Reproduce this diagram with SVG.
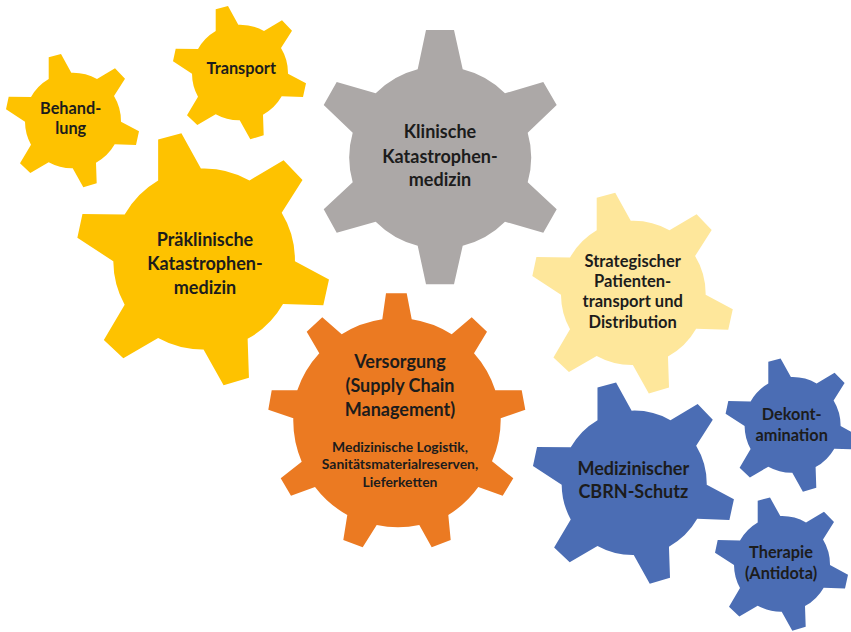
<svg xmlns="http://www.w3.org/2000/svg" width="851" height="632" viewBox="0 0 851 632">
<style>
text{font-family:"Lato","Noto Sans","Liberation Sans",sans-serif;font-weight:700;fill:#1c1c1c;text-anchor:middle}
.xl{font-size:18px}.m{font-size:16.5px}.s{font-size:16.3px}.xs{font-size:13.9px}
.y{fill:#fec200}.g{fill:#aca8a7}.p{fill:#fee79b}.o{fill:#eb7a22}.b{fill:#4b6db4}
</style>
<defs>
<path id="gear6" d="M48.7 57.3L61 54L71.3 72.7A48.5 48.5 0 0 1 97 79L115 68.3L125 78.7L114 96A48.5 48.5 0 0 1 121 121.7L139 131.3L136 145L114.7 144.3A48.5 48.5 0 0 1 96 162.7L96.7 183.3L83.3 187.3L72.7 168.3A48.5 48.5 0 0 1 48.7 162.3L30.3 173L20 163.3L31 144.7A48.5 48.5 0 0 1 25 121.7L6 109.3L8.7 96.7L31 97A48.5 48.5 0 0 1 48.7 79Z"/>
</defs>
<g id="connectors"></g>
<g id="behandlung"><use href="#gear6" class="y"/><text class="s" x="70.7" y="114">Behand-</text><text class="s" x="70.7" y="134">lung</text></g>
<g id="transport"><use href="#gear6" class="y" transform="translate(167 -48)"/><text class="s" x="241.3" y="74">Transport</text></g>
<g id="praeklinisch"><use href="#gear6" class="y" transform="translate(66 31) scale(1.892)"/><text class="xl" x="205" y="246">Präklinische</text><text class="xl" x="205" y="270">Katastrophen-</text><text class="xl" x="205" y="294">medizin</text></g>
<g id="klinisch"><path class="g" d="M426 30L454 30L462.7 69.3A90.5 90.5 0 0 1 505 93.3L543.3 82L556.7 105L527.7 132.7A90.5 90.5 0 0 1 527.7 182.3L556.7 209.3L543.3 232.7L505 221.7A90.5 90.5 0 0 1 462.7 245.7L454 284.3L426 284.3L417.7 245.7A90.5 90.5 0 0 1 375.7 221.7L336.7 232.7L323.7 209.3L352.7 182.3A90.5 90.5 0 0 1 352.7 132.7L323.7 105L336.7 82L375.7 93.3A90.5 90.5 0 0 1 417.7 69.3Z"/><text class="xl" x="440" y="138">Klinische</text><text class="xl" x="440" y="162.5">Katastrophen-</text><text class="xl" x="440" y="186">medizin</text></g>
<g id="strategisch"><use href="#gear6" class="p" transform="translate(523.3 111.3) scale(1.507)"/><text class="m" x="632.7" y="266.7">Strategischer</text><text class="m" x="632.7" y="286.7">Patienten-</text><text class="m" x="632.7" y="307.3">transport und</text><text class="m" x="632.7" y="328">Distribution</text></g>
<g id="versorgung"><path class="o" d="M386 293.3L406.7 293.3L411.7 319.3A103.7 103.7 0 0 1 451.7 334.3L471.7 317.3L487 331.7L474 353.3A103.7 103.7 0 0 1 495.3 390.3L521.7 390.3L525.3 409.7L500.7 418.3A103.7 103.7 0 0 1 492 461.3L513.3 478.3L502.7 495.7L478.3 487A103.7 103.7 0 0 1 448.3 515L450.7 540L431.7 547.3L419.3 525A103.7 103.7 0 0 1 376.7 525L362.7 547.3L343.3 540L347.3 515A103.7 103.7 0 0 1 315 487L291 495.7L280.7 478.3L301.7 461.7A103.7 103.7 0 0 1 293.3 418.3L268.3 409.7L271.7 390.3L297.3 390.3A103.7 103.7 0 0 1 319.3 353.3L306.7 331.7L322.3 317.3L341.7 334.3A103.7 103.7 0 0 1 382.3 319.3Z"/><text class="xl" x="400" y="367.7">Versorgung</text><text class="xl" x="400" y="391.7">(Supply Chain</text><text class="xl" x="400" y="415.7">Management)</text><text class="xs" x="400" y="451.7">Medizinische Logistik,</text><text class="xs" x="400" y="469">Sanitätsmaterialreserven,</text><text class="xs" x="400" y="486.7">Lieferketten</text></g>
<g id="cbrn"><use href="#gear6" class="b" transform="translate(523.9 300.8) scale(1.511)"/><text class="xl" x="633.3" y="475">Medizinischer</text><text class="xl" x="633.3" y="498.3">CBRN-Schutz</text></g>
<g id="dekont"><use href="#gear6" class="b" transform="translate(719.6 304.4)"/><text class="s" x="791.7" y="420">Dekont-</text><text class="s" x="791.7" y="440.7">amination</text></g>
<g id="therapie"><use href="#gear6" class="b" transform="translate(709 443.4)"/><text class="s" x="781" y="558">Therapie</text><text class="s" x="781" y="579">(Antidota)</text></g>
</svg>
